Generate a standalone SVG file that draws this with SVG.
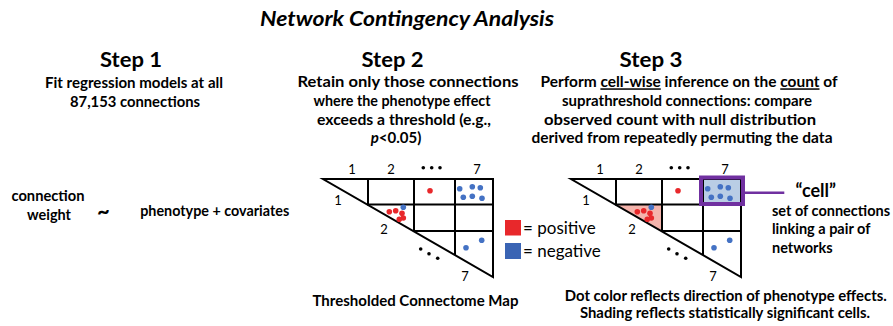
<svg xmlns="http://www.w3.org/2000/svg" xmlns:xlink="http://www.w3.org/1999/xlink" width="893" height="326" viewBox="0 0 893 326">
  <style>
    .t { font-family: Lato, "Liberation Sans", sans-serif; fill: #000; }
    .b { font-weight: bold; }
    .head { font-family: Lato, "Liberation Sans", sans-serif; font-weight: bold; font-size: 20px; text-anchor: middle; }
    .body { font-family: Lato, "Liberation Sans", sans-serif; font-weight: bold; font-size: 15px; text-anchor: middle; }
    .lab { font-family: Lato, "Liberation Sans", sans-serif; font-size: 13px; text-anchor: middle; }
    .grid { fill: none; stroke: #000; stroke-width: 2; }
    .red { fill: #E8282B; }
    .blue { fill: #4472C4; }
    .dot { fill: #000; }
  </style>
  <defs>
    <!-- triangular 7x7 network matrix: outline, cell dividers, axis labels -->
    <g id="matrix">
      <path class="grid" d="M323 179 H493 V277 Z"/>
      <path class="grid" d="M368 179 V205 M414 179 V231.5 M455 179 V255 M367 204.5 H493 M413 231 H493"/>
      <text class="lab" x="352" y="174">1</text>
      <text class="lab" x="391" y="174">2</text>
      <text class="lab" x="477" y="174">7</text>
      <text class="lab" x="338" y="205">1</text>
      <text class="lab" x="384" y="233.5">2</text>
      <text class="lab" x="465" y="280.5">7</text>
      <circle class="dot" cx="423.3" cy="167.7" r="1.8"/>
      <circle class="dot" cx="431.7" cy="167.7" r="1.8"/>
      <circle class="dot" cx="440" cy="167.7" r="1.8"/>
      <circle class="dot" cx="420.7" cy="249" r="1.8"/>
      <circle class="dot" cx="429" cy="253.7" r="1.8"/>
      <circle class="dot" cx="437.7" cy="258.3" r="1.8"/>
    </g>
    <!-- suprathreshold connections, colored by effect direction -->
    <g id="edges">
      <circle class="red" cx="430" cy="190.7" r="2.8"/>
      <circle class="blue" cx="459.7" cy="188.7" r="2.8"/>
      <circle class="blue" cx="472.3" cy="186.7" r="2.8"/>
      <circle class="blue" cx="480.3" cy="187.7" r="2.8"/>
      <circle class="blue" cx="463.3" cy="197.3" r="2.8"/>
      <circle class="blue" cx="472.3" cy="196.3" r="2.8"/>
      <circle class="blue" cx="482" cy="198.3" r="2.8"/>
      <circle class="blue" cx="403.3" cy="207.3" r="2.8"/>
      <circle class="red" cx="389.3" cy="211.7" r="2.8"/>
      <circle class="red" cx="395.7" cy="210.7" r="2.8"/>
      <circle class="red" cx="402" cy="213.3" r="2.8"/>
      <circle class="red" cx="403.3" cy="218" r="2.8"/>
      <circle class="red" cx="399.3" cy="219.3" r="2.8"/>
      <circle class="blue" cx="481.7" cy="240.3" r="2.8"/>
      <circle class="blue" cx="466" cy="247.7" r="2.8"/>
    </g>
  </defs>

  <!-- title -->
  <g id="title">
    <text class="t b" x="407" y="26" font-size="20.5" font-style="italic" text-anchor="middle" textLength="294" lengthAdjust="spacingAndGlyphs">Network Contingency Analysis</text>
  </g>

  <!-- step 1: mass-univariate regression -->
  <g id="step1">
    <text class="head" x="131" y="66.7" textLength="62" lengthAdjust="spacingAndGlyphs">Step 1</text>
    <text class="body" x="134" y="88" textLength="178" lengthAdjust="spacingAndGlyphs">Fit regression models at all</text>
    <text class="body" x="135" y="107" textLength="130" lengthAdjust="spacingAndGlyphs">87,153 connections</text>
  </g>
  <g id="model">
    <text class="body" x="48" y="201" textLength="73" lengthAdjust="spacingAndGlyphs">connection</text>
    <text class="body" x="49" y="219.5" textLength="44" lengthAdjust="spacingAndGlyphs">weight</text>
    <text class="body" x="103.5" y="219" style="font-size:22px">~</text>
    <text class="body" x="214.7" y="216" textLength="149" lengthAdjust="spacingAndGlyphs">phenotype + covariates</text>
  </g>

  <!-- step 2: thresholding -->
  <g id="step2">
    <text class="head" x="392.5" y="66.7" textLength="62" lengthAdjust="spacingAndGlyphs">Step 2</text>
    <text class="body" x="408" y="87.3" textLength="221" lengthAdjust="spacingAndGlyphs">Retain only those connections</text>
    <text class="body" x="402" y="106" textLength="177" lengthAdjust="spacingAndGlyphs">where the phenotype effect</text>
    <text class="body" x="404" y="124.5" textLength="174" lengthAdjust="spacingAndGlyphs">exceeds a threshold (e.g.,</text>
    <text class="body" x="396" y="143"><tspan font-style="italic">p</tspan>&lt;0.05)</text>
  </g>
  <g id="map-step2">
    <use xlink:href="#matrix"/>
    <use xlink:href="#edges"/>
    <text class="body" x="415.5" y="306" textLength="206" lengthAdjust="spacingAndGlyphs">Thresholded Connectome Map</text>
  </g>
  <g id="legend">
    <rect class="red" x="505" y="220" width="16" height="15.5"/>
    <rect x="505" y="243" width="16" height="16" fill="#3A64B4"/>
    <text class="t" x="523" y="233.5" font-size="17">= positive</text>
    <text class="t" x="523" y="256.5" font-size="17">= negative</text>
  </g>

  <!-- step 3: cell-wise inference -->
  <g id="step3">
    <text class="head" x="651" y="66.7" textLength="63" lengthAdjust="spacingAndGlyphs">Step 3</text>
    <text class="body" x="689" y="87.3" textLength="297" lengthAdjust="spacingAndGlyphs">Perform <tspan text-decoration="underline">cell-wise</tspan> inference on the <tspan text-decoration="underline">count</tspan> of</text>
    <text class="body" x="687" y="106" textLength="250" lengthAdjust="spacingAndGlyphs">suprathreshold connections: compare</text>
    <text class="body" x="680" y="124.5" textLength="272" lengthAdjust="spacingAndGlyphs">observed count with null distribution</text>
    <text class="body" x="682" y="143" textLength="301" lengthAdjust="spacingAndGlyphs">derived from repeatedly permuting the data</text>
  </g>
  <g id="map-step3">
    <g transform="translate(248 0)">
      <!-- significant cells shaded -->
      <path d="M368 204.5 H414 V231.5 Z" fill="#F4B4AC"/>
      <rect x="453" y="177.5" width="42" height="26.5" fill="#B9CDE5"/>
      <use xlink:href="#matrix"/>
      <use xlink:href="#edges"/>
      <rect id="cell-box" x="453" y="177.5" width="42" height="26.5" fill="none" stroke="#7030A0" stroke-width="4"/>
    </g>
    <text class="body" x="725.8" y="300.5" textLength="322" lengthAdjust="spacingAndGlyphs">Dot color reflects direction of phenotype effects.</text>
    <text class="body" x="725" y="317.5" textLength="290" lengthAdjust="spacingAndGlyphs">Shading reflects statistically significant cells.</text>
  </g>

  <g id="connectors">
    <path d="M745 192.7 H784.3" stroke="#7030A0" stroke-width="2.5" fill="none"/>
  </g>

  <g id="cell-label">
    <text class="t b" x="815.8" y="196.7" font-size="18" text-anchor="middle">“cell”</text>
    <text class="t b" x="772" y="216" font-size="14.5">set of connections</text>
    <text class="t b" x="772" y="234.3" font-size="14.5">linking a pair of</text>
    <text class="t b" x="772" y="252.7" font-size="14.5">networks</text>
  </g>
</svg>
